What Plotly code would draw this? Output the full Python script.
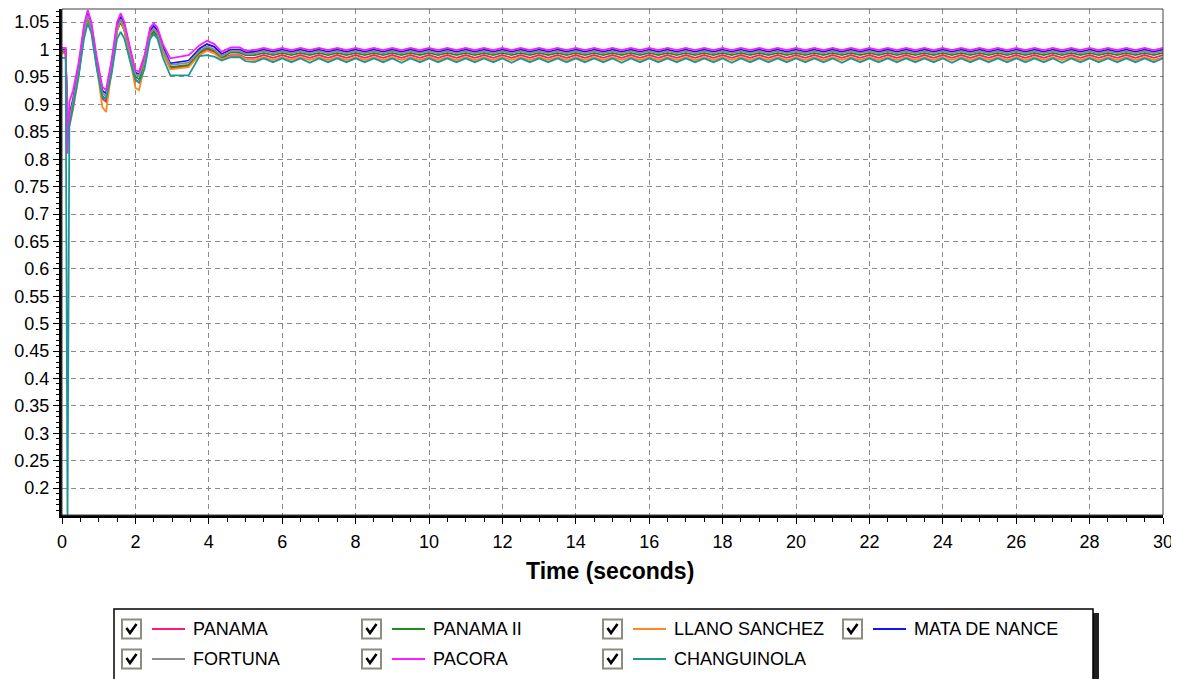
import plotly.graph_objects as go

# ---------------- data ----------------
time_s = [0, 0.1, 0.15, 0.2, 0.3, 0.45, 0.6, 0.7, 0.8, 0.95,
          1.1, 1.2, 1.35, 1.5, 1.6, 1.7, 1.85, 2.0, 2.1, 2.25,
          2.4, 2.5, 2.6, 2.75, 2.95, 3.2, 3.45, 3.75, 3.95, 4.15,
          4.35, 4.6, 4.85, 5.0,
          5.25, 5.5, 5.75, 6.0, 6.25, 6.5, 6.75, 7.0, 7.25, 7.5,
          7.75, 8.0, 8.25, 8.5, 8.75, 9.0, 9.25, 9.5, 9.75, 10.0,
          10.25, 10.5, 10.75, 11.0, 11.25, 11.5, 11.75, 12.0, 12.25, 12.5,
          12.75, 13.0, 13.25, 13.5, 13.75, 14.0, 14.25, 14.5, 14.75, 15.0,
          15.25, 15.5, 15.75, 16.0, 16.25, 16.5, 16.75, 17.0, 17.25, 17.5,
          17.75, 18.0, 18.25, 18.5, 18.75, 19.0, 19.25, 19.5, 19.75, 20.0,
          20.25, 20.5, 20.75, 21.0, 21.25, 21.5, 21.75, 22.0, 22.25, 22.5,
          22.75, 23.0, 23.25, 23.5, 23.75, 24.0, 24.25, 24.5, 24.75, 25.0,
          25.25, 25.5, 25.75, 26.0, 26.25, 26.5, 26.75, 27.0, 27.25, 27.5,
          27.75, 28.0, 28.25, 28.5, 28.75, 29.0, 29.25, 29.5, 29.75, 30.0]

panama = [0.995, 0.995, 0.850, 0.870, 0.900, 0.955, 1.030, 1.060, 1.040, 0.970,
          0.910, 0.905, 0.965, 1.035, 1.052, 1.035, 0.990, 0.945, 0.940, 0.975,
          1.028, 1.035, 1.028, 0.995, 0.966, 0.968, 0.970, 0.992, 1.000, 0.995,
          0.984, 0.990, 0.990, 0.985,
          0.985, 0.990, 0.985, 0.990, 0.985, 0.990, 0.985, 0.990, 0.985, 0.990,
          0.985, 0.990, 0.985, 0.990, 0.985, 0.990, 0.985, 0.990, 0.985, 0.990,
          0.985, 0.990, 0.985, 0.990, 0.985, 0.990, 0.985, 0.990, 0.985, 0.990,
          0.985, 0.990, 0.985, 0.990, 0.985, 0.990, 0.985, 0.990, 0.985, 0.990,
          0.985, 0.990, 0.985, 0.990, 0.985, 0.990, 0.985, 0.990, 0.985, 0.990,
          0.985, 0.990, 0.985, 0.990, 0.985, 0.990, 0.985, 0.990, 0.985, 0.990,
          0.985, 0.990, 0.985, 0.990, 0.985, 0.990, 0.985, 0.990, 0.985, 0.990,
          0.985, 0.990, 0.985, 0.990, 0.985, 0.990, 0.985, 0.990, 0.985, 0.990,
          0.985, 0.990, 0.985, 0.990, 0.985, 0.990, 0.985, 0.990, 0.985, 0.990,
          0.985, 0.990, 0.985, 0.990, 0.985, 0.990, 0.985, 0.990, 0.985, 0.990]

panama_ii = [0.996, 0.996, 0.850, 0.870, 0.900, 0.955, 1.030, 1.058, 1.035, 0.970,
             0.915, 0.910, 0.965, 1.035, 1.050, 1.035, 0.990, 0.950, 0.946, 0.975,
             1.025, 1.032, 1.025, 0.995, 0.968, 0.970, 0.972, 0.995, 1.003, 0.998,
             0.985, 0.995, 0.994, 0.990,
             0.990, 0.994, 0.990, 0.994, 0.990, 0.994, 0.990, 0.994, 0.990, 0.994,
             0.990, 0.994, 0.990, 0.994, 0.990, 0.994, 0.990, 0.994, 0.990, 0.994,
             0.990, 0.994, 0.990, 0.994, 0.990, 0.994, 0.990, 0.994, 0.990, 0.994,
             0.990, 0.994, 0.990, 0.994, 0.990, 0.994, 0.990, 0.994, 0.990, 0.994,
             0.990, 0.994, 0.990, 0.994, 0.990, 0.994, 0.990, 0.994, 0.990, 0.994,
             0.990, 0.994, 0.990, 0.994, 0.990, 0.994, 0.990, 0.994, 0.990, 0.994,
             0.990, 0.994, 0.990, 0.994, 0.990, 0.994, 0.990, 0.994, 0.990, 0.994,
             0.990, 0.994, 0.990, 0.994, 0.990, 0.994, 0.990, 0.994, 0.990, 0.994,
             0.990, 0.994, 0.990, 0.994, 0.990, 0.994, 0.990, 0.994, 0.990, 0.994,
             0.990, 0.994, 0.990, 0.994, 0.990, 0.994, 0.990, 0.994, 0.990, 0.994]

llano_sanchez = [0.993, 0.993, 0.850, 0.860, 0.890, 0.950, 1.030, 1.062, 1.040, 0.965,
                 0.895, 0.886, 0.960, 1.035, 1.055, 1.035, 0.985, 0.930, 0.926, 0.970,
                 1.030, 1.038, 1.030, 0.993, 0.964, 0.966, 0.968, 0.990, 0.998, 0.993,
                 0.982, 0.988, 0.988, 0.983,
                 0.981, 0.986, 0.981, 0.986, 0.981, 0.986, 0.981, 0.986, 0.981, 0.986,
                 0.981, 0.986, 0.981, 0.986, 0.981, 0.986, 0.981, 0.986, 0.981, 0.986,
                 0.981, 0.986, 0.981, 0.986, 0.981, 0.986, 0.981, 0.986, 0.981, 0.986,
                 0.981, 0.986, 0.981, 0.986, 0.981, 0.986, 0.981, 0.986, 0.981, 0.986,
                 0.981, 0.986, 0.981, 0.986, 0.981, 0.986, 0.981, 0.986, 0.981, 0.986,
                 0.981, 0.986, 0.981, 0.986, 0.981, 0.986, 0.981, 0.986, 0.981, 0.986,
                 0.981, 0.986, 0.981, 0.986, 0.981, 0.986, 0.981, 0.986, 0.981, 0.986,
                 0.981, 0.986, 0.981, 0.986, 0.981, 0.986, 0.981, 0.986, 0.981, 0.986,
                 0.981, 0.986, 0.981, 0.986, 0.981, 0.986, 0.981, 0.986, 0.981, 0.986,
                 0.981, 0.986, 0.981, 0.986, 0.981, 0.986, 0.981, 0.986, 0.981, 0.986]

mata_de_nance = [1.000, 1.000, 0.840, 0.880, 0.910, 0.965, 1.040, 1.068, 1.045, 0.978,
                 0.925, 0.920, 0.975, 1.045, 1.060, 1.045, 1.000, 0.958, 0.955, 0.985,
                 1.035, 1.043, 1.035, 1.005, 0.975, 0.977, 0.980, 1.002, 1.010, 1.005,
                 0.992, 1.000, 1.000, 0.995,
                 0.996, 1.000, 0.996, 1.000, 0.996, 1.000, 0.996, 1.000, 0.996, 1.000,
                 0.996, 1.000, 0.996, 1.000, 0.996, 1.000, 0.996, 1.000, 0.996, 1.000,
                 0.996, 1.000, 0.996, 1.000, 0.996, 1.000, 0.996, 1.000, 0.996, 1.000,
                 0.996, 1.000, 0.996, 1.000, 0.996, 1.000, 0.996, 1.000, 0.996, 1.000,
                 0.996, 1.000, 0.996, 1.000, 0.996, 1.000, 0.996, 1.000, 0.996, 1.000,
                 0.996, 1.000, 0.996, 1.000, 0.996, 1.000, 0.996, 1.000, 0.996, 1.000,
                 0.996, 1.000, 0.996, 1.000, 0.996, 1.000, 0.996, 1.000, 0.996, 1.000,
                 0.996, 1.000, 0.996, 1.000, 0.996, 1.000, 0.996, 1.000, 0.996, 1.000,
                 0.996, 1.000, 0.996, 1.000, 0.996, 1.000, 0.996, 1.000, 0.996, 1.000,
                 0.996, 1.000, 0.996, 1.000, 0.996, 1.000, 0.996, 1.000, 0.996, 1.000]

fortuna = [0.998, 0.998, 0.845, 0.875, 0.905, 0.960, 1.035, 1.062, 1.040, 0.975,
           0.920, 0.915, 0.970, 1.040, 1.055, 1.040, 0.995, 0.955, 0.952, 0.980,
           1.030, 1.038, 1.030, 1.000, 0.972, 0.974, 0.976, 0.998, 1.006, 1.000,
           0.988, 0.997, 0.997, 0.992,
           0.993, 0.997, 0.993, 0.997, 0.993, 0.997, 0.993, 0.997, 0.993, 0.997,
           0.993, 0.997, 0.993, 0.997, 0.993, 0.997, 0.993, 0.997, 0.993, 0.997,
           0.993, 0.997, 0.993, 0.997, 0.993, 0.997, 0.993, 0.997, 0.993, 0.997,
           0.993, 0.997, 0.993, 0.997, 0.993, 0.997, 0.993, 0.997, 0.993, 0.997,
           0.993, 0.997, 0.993, 0.997, 0.993, 0.997, 0.993, 0.997, 0.993, 0.997,
           0.993, 0.997, 0.993, 0.997, 0.993, 0.997, 0.993, 0.997, 0.993, 0.997,
           0.993, 0.997, 0.993, 0.997, 0.993, 0.997, 0.993, 0.997, 0.993, 0.997,
           0.993, 0.997, 0.993, 0.997, 0.993, 0.997, 0.993, 0.997, 0.993, 0.997,
           0.993, 0.997, 0.993, 0.997, 0.993, 0.997, 0.993, 0.997, 0.993, 0.997,
           0.993, 0.997, 0.993, 0.997, 0.993, 0.997, 0.993, 0.997, 0.993, 0.997]

pacora = [1.003, 1.003, 0.810, 0.905, 0.925, 0.975, 1.045, 1.072, 1.050, 0.985,
          0.932, 0.926, 0.980, 1.050, 1.066, 1.050, 1.005, 0.962, 0.960, 0.990,
          1.040, 1.048, 1.040, 1.010, 0.984, 0.987, 0.990, 1.008, 1.016, 1.010,
          0.996, 1.004, 1.004, 0.998,
          0.999, 1.003, 0.999, 1.003, 0.999, 1.003, 0.999, 1.003, 0.999, 1.003,
          0.999, 1.003, 0.999, 1.003, 0.999, 1.003, 0.999, 1.003, 0.999, 1.003,
          0.999, 1.003, 0.999, 1.003, 0.999, 1.003, 0.999, 1.003, 0.999, 1.003,
          0.999, 1.003, 0.999, 1.003, 0.999, 1.003, 0.999, 1.003, 0.999, 1.003,
          0.999, 1.003, 0.999, 1.003, 0.999, 1.003, 0.999, 1.003, 0.999, 1.003,
          0.999, 1.003, 0.999, 1.003, 0.999, 1.003, 0.999, 1.003, 0.999, 1.003,
          0.999, 1.003, 0.999, 1.003, 0.999, 1.003, 0.999, 1.003, 0.999, 1.003,
          0.999, 1.003, 0.999, 1.003, 0.999, 1.003, 0.999, 1.003, 0.999, 1.003,
          0.999, 1.003, 0.999, 1.003, 0.999, 1.003, 0.999, 1.003, 0.999, 1.003,
          0.999, 1.003, 0.999, 1.003, 0.999, 1.003, 0.999, 1.003, 0.999, 1.003]

changuinola = [0.985, 0.985, 0.140, 0.860, 0.895, 0.950, 1.020, 1.048, 1.030, 0.965,
               0.912, 0.910, 0.955, 1.020, 1.032, 1.020, 0.980, 0.945, 0.940, 0.965,
               1.020, 1.028, 1.020, 0.985, 0.953, 0.953, 0.953, 0.988, 0.990, 0.987,
               0.980, 0.986, 0.986, 0.979,
               0.977, 0.984, 0.977, 0.984, 0.977, 0.984, 0.976, 0.984, 0.977, 0.984,
               0.977, 0.984, 0.977, 0.984, 0.977, 0.984, 0.976, 0.984, 0.977, 0.984,
               0.977, 0.984, 0.977, 0.984, 0.977, 0.984, 0.977, 0.984, 0.976, 0.984,
               0.977, 0.984, 0.977, 0.984, 0.977, 0.984, 0.977, 0.984, 0.977, 0.984,
               0.976, 0.984, 0.977, 0.984, 0.977, 0.984, 0.977, 0.984, 0.977, 0.984,
               0.977, 0.984, 0.976, 0.984, 0.977, 0.984, 0.977, 0.984, 0.977, 0.984,
               0.977, 0.984, 0.977, 0.984, 0.976, 0.984, 0.977, 0.984, 0.977, 0.984,
               0.977, 0.984, 0.977, 0.984, 0.977, 0.984, 0.976, 0.984, 0.977, 0.984,
               0.977, 0.984, 0.977, 0.984, 0.977, 0.984, 0.977, 0.984, 0.976, 0.984,
               0.977, 0.984, 0.977, 0.984, 0.977, 0.984, 0.977, 0.984, 0.977, 0.984]

series_names = ["PANAMA", "PANAMA II", "LLANO SANCHEZ", "MATA DE NANCE",
                "FORTUNA", "PACORA", "CHANGUINOLA"]
series_values = [panama, panama_ii, llano_sanchez, mata_de_nance,
                 fortuna, pacora, changuinola]
series_colors = ["#FF1A7A", "#1E8C1E", "#FF8A1C", "#1515F0",
                 "#8C8C8C", "#FF1AFF", "#1E9696"]

x_tick_vals = [0, 2, 4, 6, 8, 10, 12, 14, 16, 18, 20, 22, 24, 26, 28, 30]
x_tick_text = ["0", "2", "4", "6", "8", "10", "12", "14", "16", "18", "20",
               "22", "24", "26", "28", "30"]
y_tick_vals = [0.2, 0.25, 0.3, 0.35, 0.4, 0.45, 0.5, 0.55, 0.6, 0.65, 0.7,
               0.75, 0.8, 0.85, 0.9, 0.95, 1.0, 1.05]
y_tick_text = ["0.2", "0.25", "0.3", "0.35", "0.4", "0.45", "0.5", "0.55", "0.6",
               "0.65", "0.7", "0.75", "0.8", "0.85", "0.9", "0.95", "1", "1.05"]

# ---------------- layout geometry ----------------
# The page body has an 8px default margin, so the figure is placed at (8, 8);
# all target positions below are page pixels and are shifted by OFF.
OFF = 8
W, H = 1179 - OFF, 679 - OFF
PL, PR, PT, PB = 62, 1163, 9, 515          # plot area in page pixels
FONT = "Liberation Sans, Arial, sans-serif"


def px_x(px):
    return (px - PL) / (PR - PL)


def px_y(py):
    return (PB - py) / (PB - PT)


fig = go.Figure()
for name, vals, col in zip(series_names, series_values, series_colors):
    fig.add_trace(go.Scatter(x=time_s, y=vals, mode="lines", name=name,
                             line=dict(color=col, width=1.8),
                             showlegend=False))

shapes = []
annotations = []

# plot frame (thin top/right)
shapes.append(dict(type="rect", xref="paper", yref="paper", x0=0, x1=1, y0=0, y1=1,
                   line=dict(color="#404040", width=1), layer="above"))

# legend box + shadow
LB_L, LB_R, LB_T, LB_B = 114, 1093, 609, 695
shapes.append(dict(type="rect", xref="paper", yref="paper",
                   x0=px_x(LB_R), x1=px_x(LB_R + 6), y0=px_y(LB_B), y1=px_y(LB_T + 4),
                   fillcolor="#202020", line=dict(width=0)))
shapes.append(dict(type="rect", xref="paper", yref="paper",
                   x0=px_x(LB_L), x1=px_x(LB_R), y0=px_y(LB_B), y1=px_y(LB_T),
                   fillcolor="white", line=dict(color="black", width=1.5)))

col_left = [122, 362, 603, 843]
row_center = [629, 659]
positions = [(0, 0), (1, 0), (2, 0), (3, 0), (0, 1), (1, 1), (2, 1)]
for (ci, ri), name, col in zip(positions, series_names, series_colors):
    cx = col_left[ci]
    cy = row_center[ri]
    shapes.append(dict(type="rect", xref="paper", yref="paper",
                       x0=px_x(cx), x1=px_x(cx + 19), y0=px_y(cy + 9.5), y1=px_y(cy - 9.5),
                       fillcolor="white", line=dict(color="#8E8C80", width=2)))
    path = "M {:.5f},{:.5f} L {:.5f},{:.5f} L {:.5f},{:.5f}".format(
        px_x(cx + 4.5), px_y(cy - 1), px_x(cx + 8), px_y(cy + 4), px_x(cx + 14.5), px_y(cy - 5))
    shapes.append(dict(type="path", xref="paper", yref="paper", path=path,
                       line=dict(color="black", width=2.6)))
    shapes.append(dict(type="line", xref="paper", yref="paper",
                       x0=px_x(cx + 30), x1=px_x(cx + 63), y0=px_y(cy), y1=px_y(cy),
                       line=dict(color=col, width=1.8)))
    annotations.append(dict(xref="paper", yref="paper", x=px_x(cx + 69), y=px_y(cy),
                            text=name, showarrow=False, xanchor="left", yanchor="middle",
                            font=dict(family=FONT, size=18, color="black")))

annotations.append(dict(xref="paper", yref="paper", x=px_x(610), y=px_y(571),
                        text="<b>Time (seconds)</b>", showarrow=False,
                        xanchor="center", yanchor="middle",
                        font=dict(family=FONT, size=23, color="black")))

grid_common = dict(showgrid=True, gridcolor="#8C8C8C", gridwidth=1,
                   griddash="5px,4px", zeroline=False,
                   showline=True, linecolor="black", linewidth=3,
                   ticks="outside", ticklen=6, tickwidth=1, tickcolor="black",
                   tickfont=dict(family=FONT, size=18, color="black"))

fig.update_layout(
    width=W, height=H, autosize=False,
    margin=dict(l=PL - OFF, r=1179 - PR, t=PT - OFF, b=679 - PB, pad=0),
    paper_bgcolor="white", plot_bgcolor="white",
    xaxis=dict(range=[0, 30], tickmode="array", tickvals=x_tick_vals,
               ticktext=x_tick_text, automargin=False, ticklabelstandoff=2,
               minor=dict(dtick=0.5, ticks="outside", ticklen=4, tickcolor="black",
                          showgrid=False),
               **grid_common),
    yaxis=dict(range=[0.151, 1.074], tickmode="array", tickvals=y_tick_vals,
               ticktext=y_tick_text, automargin=False,
               minor=dict(dtick=0.01, ticks="outside", ticklen=3, tickcolor="black",
                          showgrid=False),
               **grid_common),
    shapes=shapes,
    annotations=annotations,
    showlegend=False,
)

fig.write_html("out.html")
